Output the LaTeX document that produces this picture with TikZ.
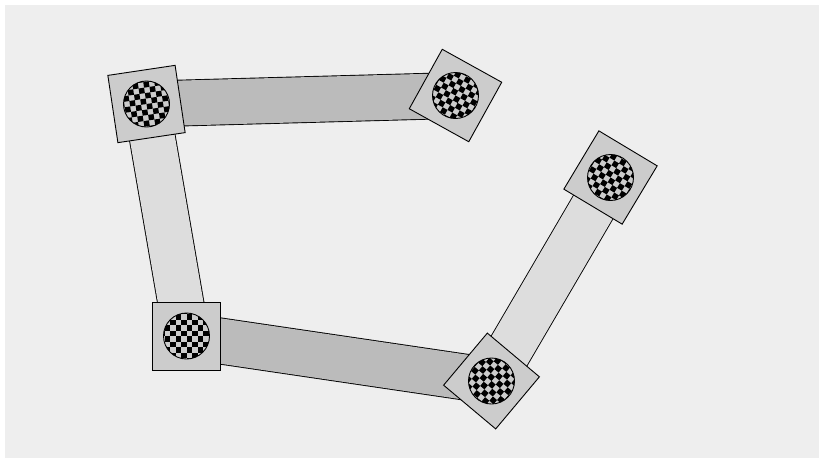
\documentclass[tikz,border=0pt]{standalone}
\usepackage{tikz}
\usetikzlibrary{positioning}
\definecolor{bgfill}{HTML}{EEEEEE}
\definecolor{linkdark}{HTML}{BBBBBB}
\definecolor{linklight}{HTML}{DDDDDD}
\definecolor{jointfill}{HTML}{CCCCCC}
\begin{document}
\begin{tikzpicture}[x=1pt, y=-1pt,
                link/.style={line width=0.9pt, double distance=45pt},
                joint/.style={rectangle, draw, line width=0.9pt, fill=jointfill, minimum size=68pt, inner sep=0pt}]
                
                \useasboundingbox (0,0) rectangle (819,458);
                \fill[bgfill] (5,5) rectangle (819,458);
                
                % pivot points of the chain
                \coordinate (pa) at (146.5,104);
                \coordinate (pb) at (455.5,95.5);
                \coordinate (pc) at (186.5,336);
                \coordinate (pd) at (491.5,381);
                \coordinate (pe) at (610.5,177.5);
                
                % links
                \draw[link, double=linkdark] (pa) -- (pb);
                \draw[link, double=linklight] (pa) -- (pc);
                \draw[link, double=linkdark] (pc) -- (pd);
                \draw[link, double=linklight] (pd) -- (pe);
                
                % joints
                \node[joint, rotate=8.5] (ja) at (pa) {};
                \node[joint, rotate=-29] (jb) at (pb) {};
                \node[joint] (jc) at (pc) {};
                \node[joint, rotate=-40] (jd) at (pd) {};
                \node[joint, rotate=-31] (je) at (pe) {};
                
                % checkered discs
                \foreach \j/\a in {ja/8.5, jb/-29, jc/0, jd/-40, je/-31} {
                  \begin{scope}[shift={(\j.center)}, rotate=\a]
                    \clip (0,0) circle (23);
                    \foreach \i in {-5,...,4}
                      \foreach \k in {-5,...,4} {
                        \pgfmathtruncatemacro\parity{mod(\i+\k+20,2)}
                        \ifnum\parity=0
                          \fill[black] (\i*5.5,\k*5.5) rectangle ++(5.5,5.5);
                        \fi
                      }
                  \end{scope}
                  \draw[line width=0.9pt] (\j.center) circle (23);
                }
            \end{tikzpicture}
\end{document}
